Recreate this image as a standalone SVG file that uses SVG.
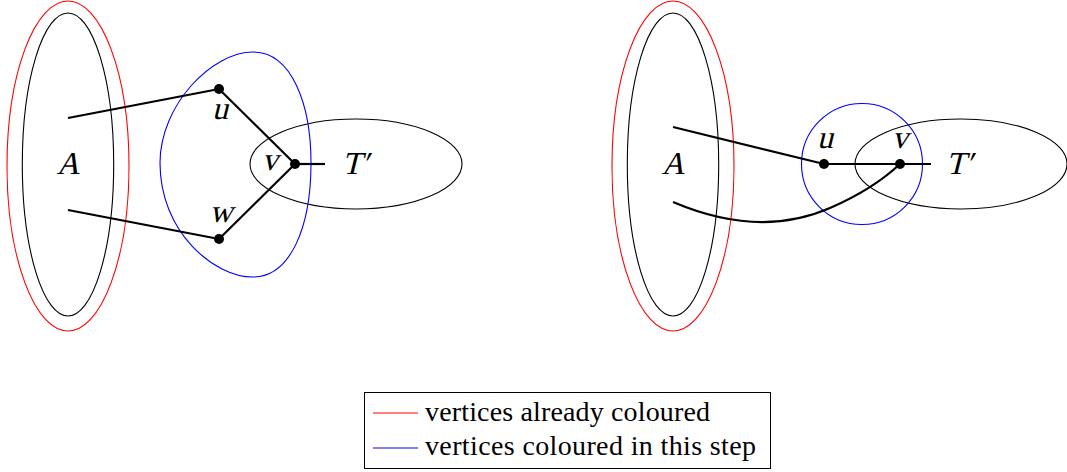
<svg xmlns="http://www.w3.org/2000/svg" width="1067" height="472" viewBox="0 0 1067 472">
<style>
.set{fill:none;stroke:#000;stroke-width:1.1}
.red{fill:none;stroke:#f00;stroke-width:1.1}
.blue{fill:none;stroke:#00f;stroke-width:1.1}
.edge{fill:none;stroke:#000;stroke-width:2.2;stroke-linecap:butt}
.dot{fill:#000}
</style>
<rect width="1067" height="472" fill="#fff"/>
<g id="left-sets">
<ellipse class="red" cx="68" cy="166" rx="61" ry="165"/>
<ellipse class="set" cx="68" cy="164.5" rx="45.7" ry="151.5"/>
<ellipse class="set" cx="356" cy="164" rx="106" ry="45"/>
<path class="blue" d="M253 52 C292 52 311 105 311 163 C311 228 290 277 253 277 C214 277 160 232 160 163 C160 105 212 52 253 52 Z"/>
<text font-family="Liberation Serif, serif" font-size="32" text-anchor="middle" transform="translate(68 174) skewX(-14)">A</text>
<text font-family="Liberation Serif, serif" font-size="32" transform="translate(342 174) skewX(-14)">T′</text>
</g>
<g id="left-connectors">
<path class="edge" d="M68 118 L219 89"/>
<path class="edge" d="M68 210 L219 239"/>
<path class="edge" d="M219 89 L295 164"/>
<path class="edge" d="M219 239 L295 164"/>
<path class="edge" d="M295 164 L325 164"/>
</g>
<g id="left-u"><circle class="dot" cx="219" cy="89" r="5"/><text font-family="Liberation Serif, serif" font-size="32" text-anchor="middle" transform="translate(220 119) skewX(-14)">u</text></g>
<g id="left-w"><circle class="dot" cx="219" cy="239" r="5"/><text font-family="Liberation Serif, serif" font-size="32" text-anchor="middle" transform="translate(221 222) skewX(-14)">w</text></g>
<g id="left-v"><circle class="dot" cx="295" cy="164" r="5"/><text font-family="Liberation Serif, serif" font-size="32" text-anchor="middle" transform="translate(270 170) skewX(-14)">v</text></g>

<g id="right-sets">
<ellipse class="red" cx="673" cy="166" rx="61" ry="165"/>
<ellipse class="set" cx="673" cy="164.5" rx="45.7" ry="151.5"/>
<ellipse class="set" cx="961" cy="164" rx="106" ry="45"/>
<circle class="blue" cx="862" cy="164" r="60.5"/>
<text font-family="Liberation Serif, serif" font-size="32" text-anchor="middle" transform="translate(673 174) skewX(-14)">A</text>
<text font-family="Liberation Serif, serif" font-size="32" transform="translate(946 174) skewX(-14)">T′</text>
</g>
<g id="right-connectors">
<path class="edge" d="M673 127 L824 164"/>
<path class="edge" d="M673 202 C720 222 775 232 830 208 C860 195 885 178 900 164"/>
<path class="edge" d="M824 164 L931 164"/>
</g>
<g id="right-u"><circle class="dot" cx="824" cy="164" r="5"/><text font-family="Liberation Serif, serif" font-size="32" text-anchor="middle" transform="translate(825 148) skewX(-14)">u</text></g>
<g id="right-v"><circle class="dot" cx="900" cy="164" r="5"/><text font-family="Liberation Serif, serif" font-size="32" text-anchor="middle" transform="translate(900 148) skewX(-14)">v</text></g>

<g id="legend">
<rect x="364.5" y="392.5" width="406" height="76" fill="none" stroke="#000" stroke-width="1"/>
<line x1="373" y1="413" x2="418" y2="413" stroke="#f00" stroke-width="1"/>
<line x1="373" y1="448" x2="418" y2="448" stroke="#00f" stroke-width="1"/>
<text font-family="Liberation Serif, serif" font-size="28" x="425" y="421" textLength="285" lengthAdjust="spacing">vertices already coloured</text>
<text font-family="Liberation Serif, serif" font-size="28" x="425" y="455" textLength="331" lengthAdjust="spacing">vertices coloured in this step</text>
</g>
</svg>
